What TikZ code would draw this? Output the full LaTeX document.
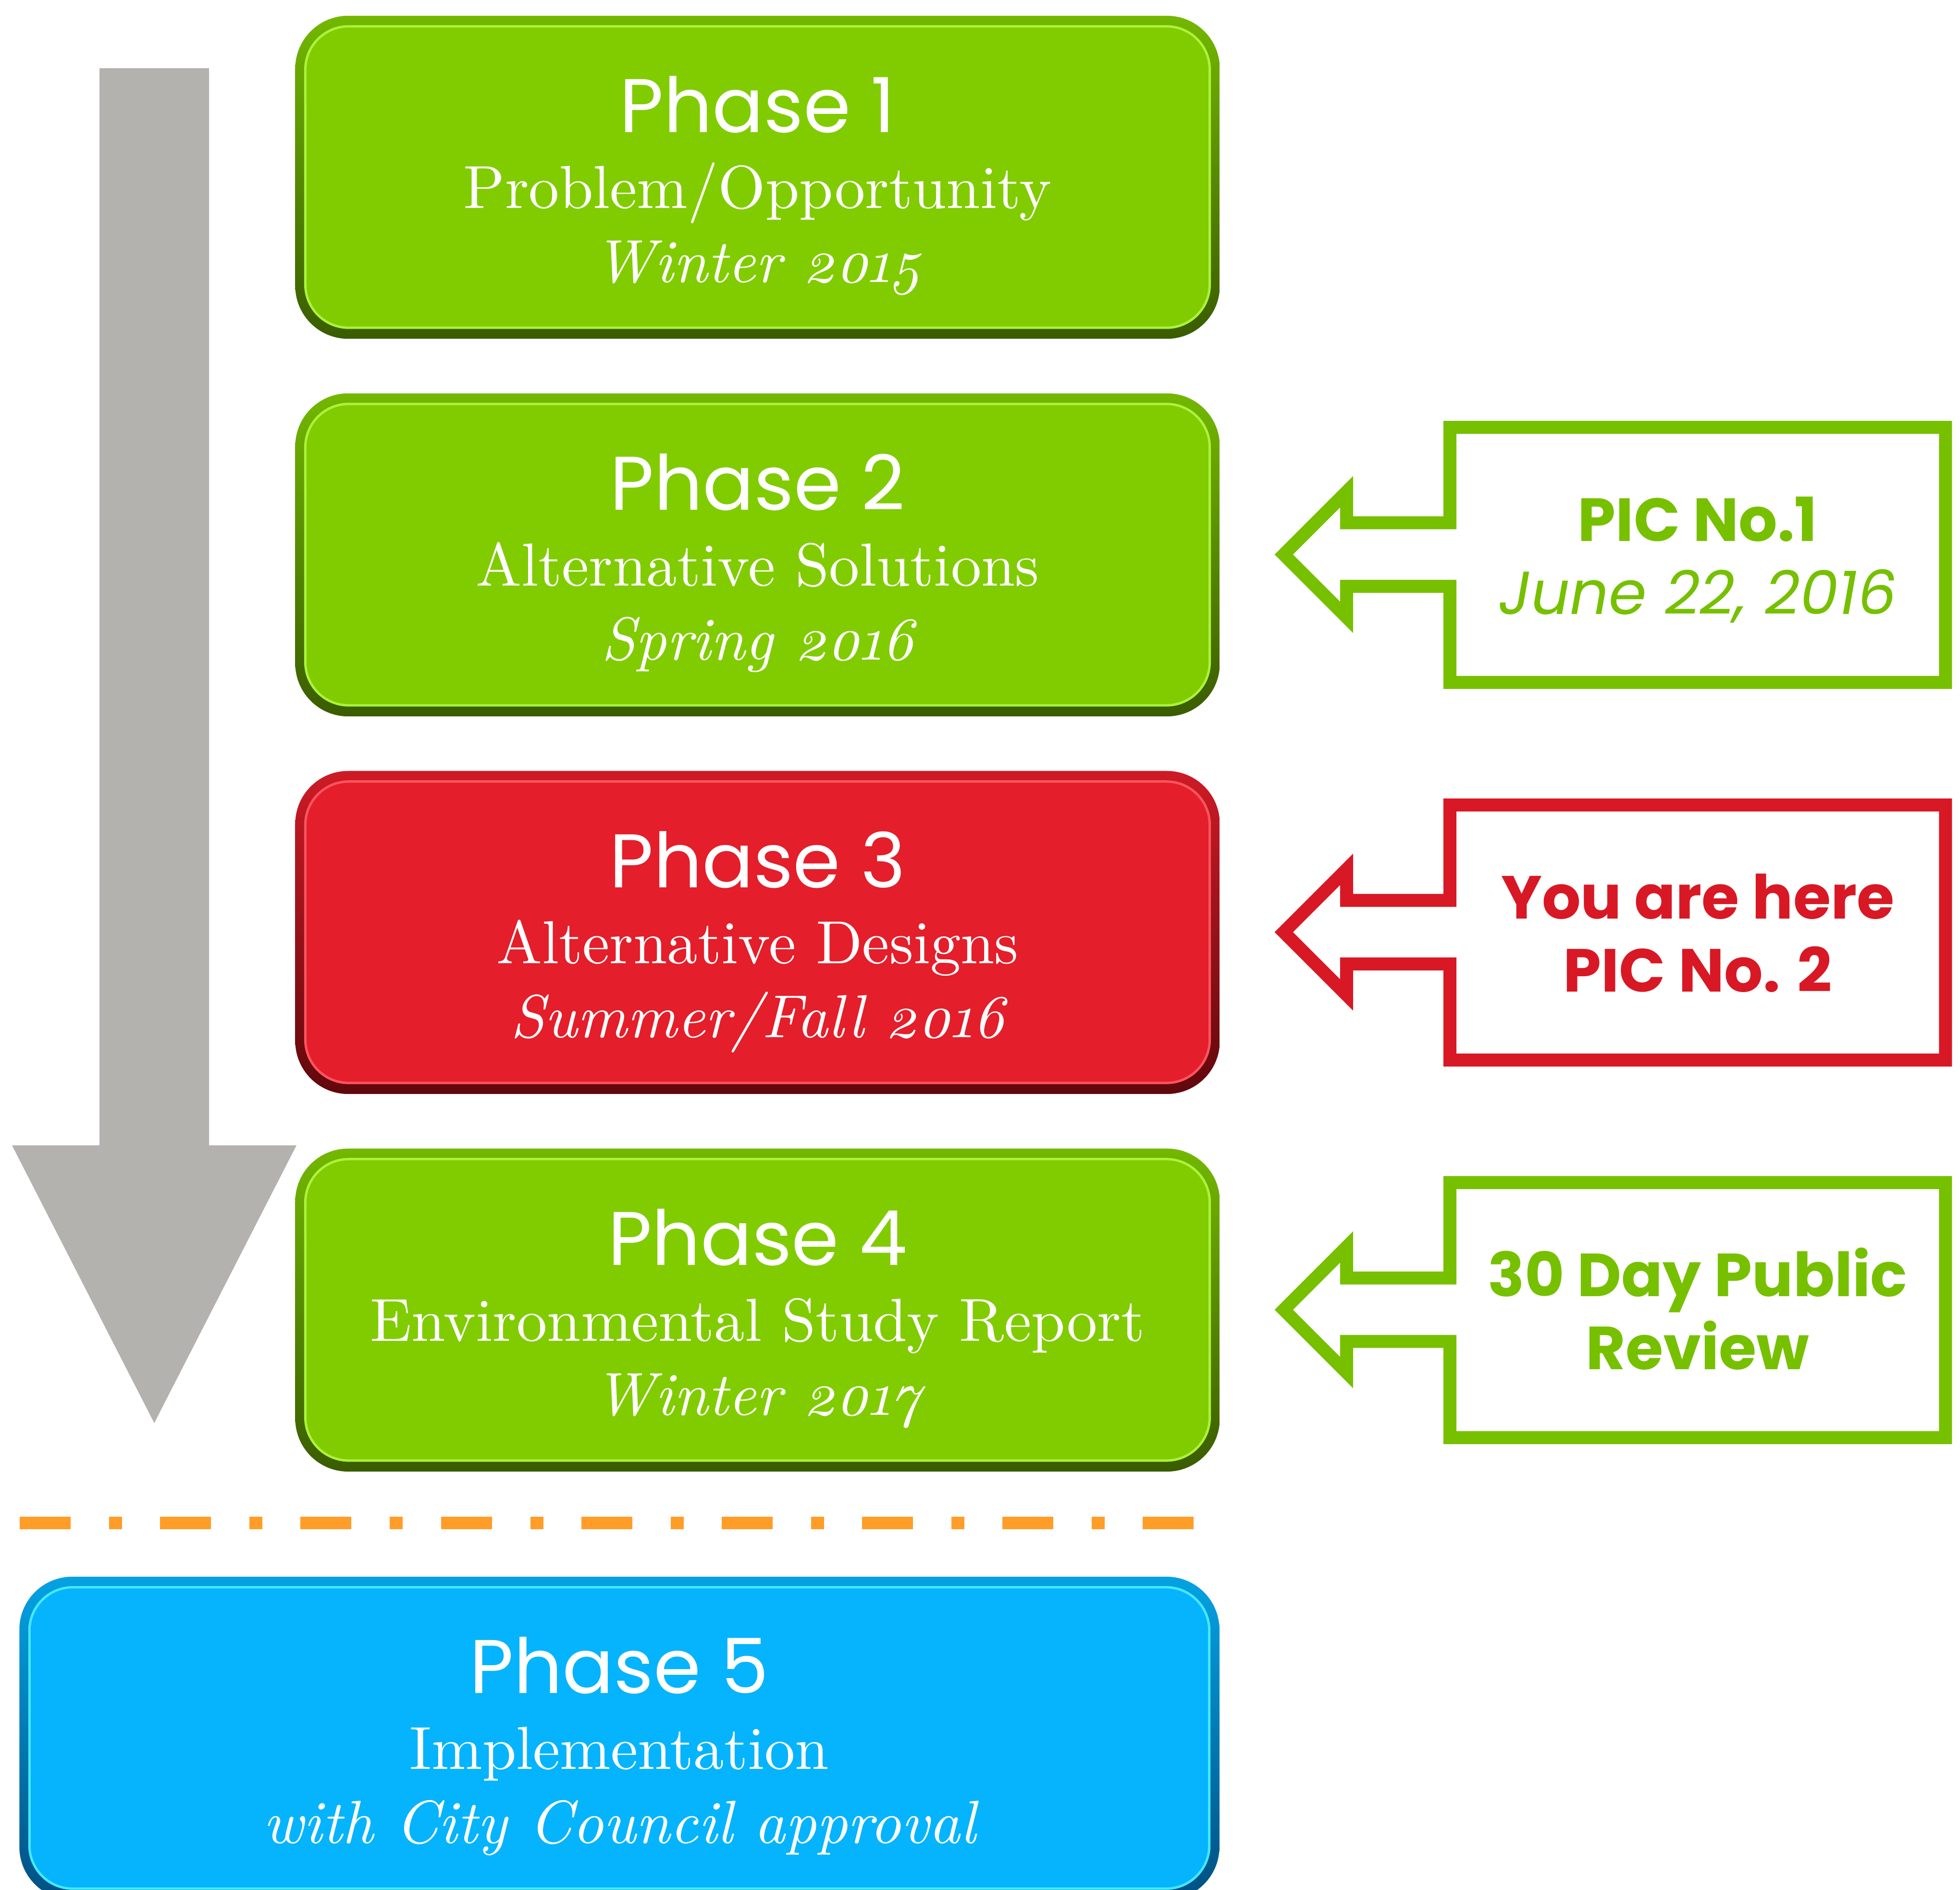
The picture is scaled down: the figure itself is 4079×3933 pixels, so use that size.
\documentclass[tikz,border=0pt]{standalone}
\usepackage{fontspec}
\setmainfont{lmroman10-regular.otf}[ItalicFont=lmroman10-italic.otf,Numbers=OldStyle]
\newfontfamily\gothic{Poppins}

\definecolor{phgreen}{RGB}{128,204,0}
\definecolor{phgreenDark}{RGB}{58,92,0}
\definecolor{phgreenHi}{RGB}{172,242,60}
\definecolor{phred}{RGB}{228,30,42}
\definecolor{phredDark}{RGB}{96,8,12}
\definecolor{phredHi}{RGB}{252,84,94}
\definecolor{phblue}{RGB}{5,180,252}
\definecolor{phblueDark}{RGB}{0,80,130}
\definecolor{phblueHi}{RGB}{70,232,255}
\definecolor{cgreen}{RGB}{118,192,0}
\definecolor{cred}{RGB}{216,24,36}
\definecolor{arrowgray}{RGB}{179,178,174}
\definecolor{dashorange}{RGB}{255,157,40}

\begin{document}
\begin{tikzpicture}[x=0.01cm,y=-0.01cm,node distance=7.855cm,
  phase/.style={rectangle,rounded corners=1.1cm,minimum width=19.23cm,
    minimum height=6.72cm,inner sep=0pt,top color=#1!90!black,bottom color=#1Dark,
    path picture={\draw[#1Hi,fill=#1,line width=0.05cm,rounded corners=0.9cm]
      ([shift={(0.21cm,0.23cm)}]path picture bounding box.south west) rectangle
      ([shift={(-0.21cm,-0.22cm)}]path picture bounding box.north east);}},
  phtitle/.style={anchor=base,inner sep=0pt,text=white,font=\gothic\fontsize{45}{54}\selectfont},
  phtext/.style={anchor=base,inner sep=0pt,text=white,font=\fontsize{36}{43}\selectfont},
  phdate/.style={phtext,font=\fontsize{36}{43}\selectfont\itshape},
  callout/.style={rectangle,minimum width=10.295cm,minimum height=5.29cm,inner sep=0pt},
  calloutline/.style={draw=#1,line width=0.27cm,line join=miter},
  pichead/.style={anchor=base,inner sep=0pt,text=#1,font=\gothic\bfseries\fontsize{36}{43}\selectfont},
  picdate/.style={anchor=base,inner sep=0pt,text=#1,font=\gothic\itshape\fontsize{36}{43}\selectfont},
  milestone/.style={draw=dashorange,line width=0.26cm,
    dash pattern=on 1.06cm off 0.8cm on 0.27cm off 0.79cm}]
  \useasboundingbox (0,0) rectangle (4079,3933);
  \clip (0,0) rectangle (4079,3933);

  % time runs downwards
  \fill[arrowgray] (207,142) -- (435,142) -- (435,2384) -- (617,2384)
    -- (321,2962) -- (25,2384) -- (207,2384) -- cycle;

  % phases
  \node[phase=phgreen] (ph1) at (1576.5,369) {};
  \node[phase=phgreen] (ph2) [below of=ph1] {};
  \node[phase=phred]   (ph3) [below of=ph2] {};
  \node[phase=phgreen] (ph4) [below of=ph3] {};
  \node[phase=phblue,minimum width=24.96cm] (ph5) at (1289,3618) {};

  \node[phtitle] (ph1a) at ([yshift=-2.43cm]ph1.north) {Phase 1};
  \node[phtext]  (ph1b) at ([yshift=-4.01cm]ph1.north) {Problem/Opportunity};
  \node[phdate]  (ph1c) at ([yshift=-5.55cm]ph1.north) {Winter 2015};

  \node[phtitle] (ph2a) at ([yshift=-2.43cm]ph2.north) {Phase 2};
  \node[phtext]  (ph2b) at ([yshift=-4.01cm]ph2.north) {Alternative Solutions};
  \node[phdate]  (ph2c) at ([yshift=-5.55cm]ph2.north) {Spring 2016};

  \node[phtitle] (ph3a) at ([yshift=-2.43cm]ph3.north) {Phase 3};
  \node[phtext]  (ph3b) at ([yshift=-4.01cm]ph3.north) {Alternative Designs};
  \node[phdate]  (ph3c) at ([yshift=-5.55cm]ph3.north) {Summer/Fall 2016};

  \node[phtitle] (ph4a) at ([yshift=-2.43cm]ph4.north) {Phase 4};
  \node[phtext]  (ph4b) at ([yshift=-4.01cm]ph4.north) {Environmental Study Report};
  \node[phdate]  (ph4c) at ([yshift=-5.55cm]ph4.north) {Winter 2017};

  \node[phtitle] (ph5a) at ([yshift=-2.43cm]ph5.north) {Phase 5};
  \node[phtext]  (ph5b) at ([yshift=-4.01cm]ph5.north) {Implementation};
  \node[phdate]  (ph5c) at ([yshift=-5.55cm]ph5.north) {with City Council approval};

  % end of the study
  \coordinate (dashL) at (41,3170);
  \coordinate (dashR) at (2484,3170);
  \draw[milestone] (dashL) -- (dashR);

  % public meetings
  \node[callout] (pic1) [right of=ph2,node distance=19.555cm] {};
  \node[callout] (pic2) [right of=ph3,node distance=19.555cm] {};
  \node[callout] (pic3) [right of=ph4,node distance=19.555cm] {};

  \draw[calloutline=cgreen] (pic1.north west) -- ([yshift=-1.985cm]pic1.north west)
    -- ++(-2.15cm,0) -- ++(0,0.645cm) -- ++(-1.305cm,-1.305cm) -- ++(1.305cm,-1.305cm)
    -- ++(0,0.645cm) -- ++(2.15cm,0) -- (pic1.south west) -- (pic1.south east)
    -- (pic1.north east) -- cycle;
  \draw[calloutline=cred] (pic2.north west) -- ([yshift=-1.985cm]pic2.north west)
    -- ++(-2.15cm,0) -- ++(0,0.645cm) -- ++(-1.305cm,-1.305cm) -- ++(1.305cm,-1.305cm)
    -- ++(0,0.645cm) -- ++(2.15cm,0) -- (pic2.south west) -- (pic2.south east)
    -- (pic2.north east) -- cycle;
  \draw[calloutline=cgreen] (pic3.north west) -- ([yshift=-1.985cm]pic3.north west)
    -- ++(-2.15cm,0) -- ++(0,0.645cm) -- ++(-1.305cm,-1.305cm) -- ++(1.305cm,-1.305cm)
    -- ++(0,0.645cm) -- ++(2.15cm,0) -- (pic3.south west) -- (pic3.south east)
    -- (pic3.north east) -- cycle;

  \node[pichead=cgreen] (pic1a) at ([yshift=-2.37cm]pic1.north) {PIC No.1};
  \node[picdate=cgreen] (pic1b) at ([yshift=-3.89cm]pic1.north) {June 22, 2016};
  \node[pichead=cred]   (pic2a) at ([yshift=-2.37cm]pic2.north) {You are here};
  \node[pichead=cred]   (pic2b) at ([yshift=-3.89cm]pic2.north) {PIC No. 2};
  \node[pichead=cgreen] (pic3a) at ([yshift=-2.37cm]pic3.north) {30 Day Public};
  \node[pichead=cgreen] (pic3b) at ([yshift=-3.89cm]pic3.north) {Review};
\end{tikzpicture}
\end{document}
